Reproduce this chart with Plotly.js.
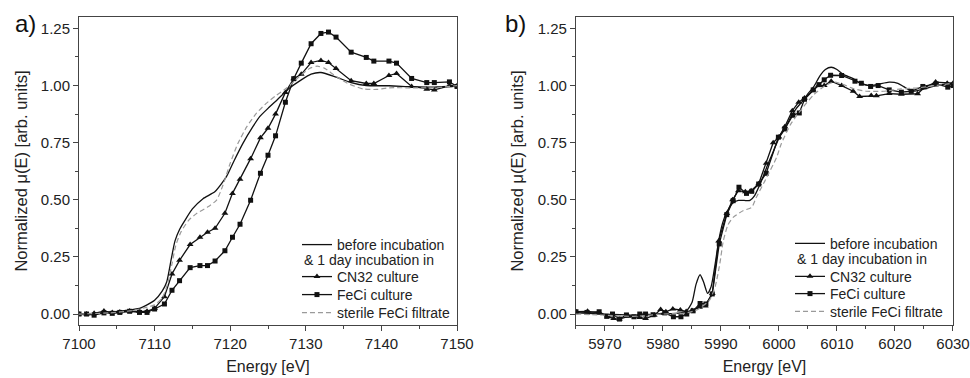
<!DOCTYPE html>
<html>
<head>
<meta charset="utf-8">
<script src="https://cdn.plot.ly/plotly-3.0.1.min.js"></script>
<style>html,body{margin:0;padding:0;background:#fff;}#chart{width:970px;height:378px;}</style>
</head>
<body>
<div id="chart"></div>
<script>
// ---------- Panel a) ----------
const aMarkX = [7100,7101,7102,7103.3,7104.4,7105.4,7106.7,7108,7109,7110,7111.3,7112.3,7113.3,7114.7,7116,7117,7118,7119.3,7120.3,7121.3,7122.7,7124,7125,7126,7127.3,7128.4,7129.4,7130.7,7132,7133,7134,7136,7138,7139,7141,7142,7144,7146,7147,7149,7150];
const aFeCi = [0,0,-0.005,0.005,0.003,0.007,0.012,0.007,0.007,0.022,0.044,0.104,0.146,0.203,0.212,0.212,0.232,0.277,0.336,0.393,0.498,0.616,0.695,0.78,0.927,1.03,1.098,1.183,1.228,1.234,1.212,1.146,1.123,1.107,1.107,1.098,1.031,1.013,1.013,1.016,0.996];
const aCN32 = [0,0,0.003,0.013,0.007,0.009,0.013,0.012,0.012,0.025,0.076,0.175,0.235,0.304,0.336,0.358,0.375,0.441,0.528,0.59,0.68,0.771,0.813,0.875,0.97,1.03,1.049,1.101,1.11,1.101,1.075,1.021,1.009,1.009,1.044,1.053,0.996,0.984,0.981,0.999,0.999];
const aBeforeX = [7100,7102,7104,7106,7108,7109,7110,7111,7111.6,7112.2,7112.7,7113.3,7114.2,7115,7116.4,7118,7119.5,7120.5,7121.7,7123,7123.9,7125,7126.2,7127.9,7129.4,7130.7,7132,7134,7136,7138,7141,7144,7147,7150];
const aBefore = [0,0.003,0.008,0.015,0.025,0.04,0.06,0.1,0.14,0.24,0.32,0.37,0.42,0.46,0.505,0.536,0.601,0.67,0.748,0.82,0.864,0.9,0.937,0.99,1.025,1.05,1.057,1.037,1.013,1.0,0.999,0.995,0.993,0.998];
const aSterileX = [7100,7104,7107,7109,7110,7111,7111.7,7112.3,7112.8,7113.5,7114.5,7115.6,7117,7118.2,7119,7120,7121,7122.2,7123.5,7124.8,7126,7127.5,7129,7130.5,7131.5,7132.5,7134,7135.5,7137.6,7139.4,7141,7144,7147,7150];
const aSterile = [0,0.005,0.015,0.03,0.04,0.07,0.13,0.22,0.3,0.36,0.41,0.441,0.468,0.499,0.56,0.66,0.745,0.82,0.88,0.923,0.955,0.99,1.035,1.075,1.085,1.075,1.04,1.01,0.985,0.983,0.99,0.99,0.99,1.0];

// ---------- Panel b) ----------
const bBeforeX = [5965,5970,5975,5980,5983,5984,5985,5985.7,5986.4,5987,5987.7,5988.3,5989,5989.6,5990.3,5991,5992,5993,5994,5995,5995.8,5997,5998,5999,6000,6001,6002,6003,6004,6005,6006,6007,6008,6009,6010,6011,6012.8,6014,6015.6,6017,6019,6020.5,6021.5,6023,6025,6027,6030];
const bBefore = [0.005,0.0,-0.005,0.0,0.005,0.012,0.05,0.13,0.172,0.14,0.09,0.12,0.22,0.32,0.4,0.445,0.485,0.497,0.497,0.497,0.518,0.584,0.65,0.71,0.77,0.81,0.86,0.9,0.93,0.965,0.995,1.04,1.07,1.08,1.07,1.05,1.03,1.01,1.0,1.005,1.015,1.01,0.995,0.975,0.985,1.0,1.01];
const bCN32X = [5965,5967,5969,5970.5,5971.5,5972.5,5974,5976,5977,5978.5,5979.6,5980.5,5981.7,5983,5984,5985,5986.3,5987.3,5988.5,5989.6,5991,5992,5993,5994.2,5995.2,5996.5,5997.8,5999,6000,6001,6002.3,6003.4,6004.4,6005.9,6006.8,6007.8,6009,6010.8,6012.8,6013.9,6015.9,6016.8,6019,6021.1,6023.9,6025,6027,6029,6030];
const bCN32 = [0.01,0.012,0.005,-0.012,-0.02,-0.022,-0.01,-0.015,-0.02,-0.005,0.02,0.01,0.022,0.018,0.011,0.015,0.03,0.035,0.09,0.32,0.44,0.5,0.54,0.535,0.54,0.57,0.66,0.75,0.775,0.82,0.89,0.927,0.945,0.98,1.0,1.0,1.019,1.0,0.975,0.952,0.956,0.955,0.965,0.962,0.964,0.99,1.015,1.01,1.01];
const bFeCiX = [5965,5966.9,5969,5970.3,5971.3,5972.5,5973.7,5975,5976,5977,5978.3,5980.3,5981.8,5983.1,5984.1,5985.2,5986.4,5987.4,5988.5,5989.7,5991,5992.1,5993.1,5994.4,5995.3,5996.5,5997.8,5999.9,6001,6002.4,6003.5,6004.4,6005.9,6006.9,6007.8,6008.9,6010.8,6013.1,6014.2,6015.8,6017.1,6019,6021.1,6022.8,6024.8,6027.1,6029.1,6030];
const bFeCi = [0.01,0.007,0.01,-0.01,0,-0.022,-0.004,-0.012,0,0,-0.003,0.005,-0.012,-0.012,0,0.014,0.046,0.044,0.088,0.307,0.435,0.496,0.555,0.528,0.537,0.569,0.616,0.774,0.81,0.87,0.88,0.94,0.981,1.004,1.025,1.045,1.044,1.019,1.01,0.996,1.0,0.981,0.971,0.975,0.996,1.007,0.993,1.0];
const bSterileX = [5965,5970,5975,5980,5984,5986,5988,5989,5989.8,5990.4,5991.2,5992.1,5993.8,5995.3,5996.1,5997.6,5999.6,6000.4,6002,6004,6006,6008,6009.5,6011,6013,6015,6018,6021,6024,6027,6030];
const bSterile = [0,-0.005,-0.01,0,0.005,0.02,0.06,0.12,0.22,0.32,0.39,0.423,0.452,0.467,0.511,0.584,0.686,0.745,0.83,0.9,0.96,1.0,1.015,1.005,0.985,0.975,0.975,0.985,0.99,1.0,1.01];

const seriesNames = ['before incubation','CN32 culture','FeCi culture','sterile FeCi filtrate'];
const legendNote = '& 1 day incubation in';
const panelLabels = ['a)','b)'];
const xTitle = 'Energy [eV]';
const yTitle = 'Normalized μ(E) [arb. units]';

const FONT = 'Liberation Sans, Arial, sans-serif';
const BLACK = '#111';
const GRAY = '#9a9a9a';

// one legend box per entry so the row spacing can follow the reference
function panel(xa, ya, legs, d) {
  return [
    {x: d.bx, y: d.by, xaxis: xa, yaxis: ya, legend: legs[0], name: seriesNames[0],
     mode: 'lines', line: {color: BLACK, width: 1.3, shape: 'spline', smoothing: 0.6}},
    {x: d.tx, y: d.ty, xaxis: xa, yaxis: ya, legend: legs[1], name: seriesNames[1],
     mode: 'lines+markers', line: {color: BLACK, width: 1.3}, marker: {symbol: 'triangle-up', size: 6, color: BLACK}},
    {x: d.sx, y: d.sy, xaxis: xa, yaxis: ya, legend: legs[2], name: seriesNames[2],
     mode: 'lines+markers', line: {color: BLACK, width: 1.3}, marker: {symbol: 'square', size: 5, color: BLACK}},
    {x: d.fx, y: d.fy, xaxis: xa, yaxis: ya, legend: legs[3], name: seriesNames[3],
     mode: 'lines', line: {color: GRAY, width: 1.2, dash: '5px,3px', shape: 'spline', smoothing: 0.6}}
  ];
}

const data = [].concat(
  panel('x', 'y', ['legend','legend2','legend3','legend4'],
        {bx: aBeforeX, by: aBefore, tx: aMarkX, ty: aCN32, sx: aMarkX, sy: aFeCi, fx: aSterileX, fy: aSterile}),
  panel('x2', 'y2', ['legend5','legend6','legend7','legend8'],
        {bx: bBeforeX, by: bBefore, tx: bCN32X, ty: bCN32, sx: bFeCiX, sy: bFeCi, fx: bSterileX, fy: bSterile})
);

function xaxis(domain, range, anchor) {
  return {
    domain: domain, range: range, anchor: anchor,
    showline: true, linecolor: '#444', linewidth: 1, mirror: true,
    ticks: 'outside', ticklen: 5, tickcolor: '#444', dtick: 10,
    minor: {ticks: 'outside', ticklen: 3, dtick: 5, tickcolor: '#444'},
    showgrid: false, zeroline: false, automargin: false,
    tickfont: {family: FONT, size: 15, color: '#222'},
    title: {text: xTitle, font: {family: FONT, size: 16, color: '#222'}, standoff: 9}
  };
}
function yaxis(anchor) {
  return {
    domain: [0, 1], range: [-0.048, 1.30], anchor: anchor,
    showline: true, linecolor: '#444', linewidth: 1, mirror: true,
    ticks: 'outside', ticklen: 5, tickcolor: '#444', dtick: 0.25, tick0: 0, tickformat: '.2f',
    minor: {ticks: 'outside', ticklen: 3, dtick: 0.125, tickcolor: '#444'},
    showgrid: false, zeroline: false, automargin: false,
    tickfont: {family: FONT, size: 15, color: '#222'},
    title: {text: yTitle, font: {family: FONT, size: 16.5, color: '#222'}, standoff: 9}
  };
}
function legend(x, y) {
  return {x: x, y: y, xanchor: 'left', yanchor: 'top', bgcolor: 'rgba(0,0,0,0)', borderwidth: 0,
    itemwidth: 30, font: {family: FONT, size: 14, color: '#222'}};
}

const layout = {
  width: 970, height: 378,
  margin: {l: 79, r: 17, t: 17, b: 53},
  paper_bgcolor: '#fff', plot_bgcolor: '#fff',
  showlegend: true,
  xaxis: xaxis([0, 0.4325], [7100, 7150], 'y'),
  yaxis: yaxis('x'),
  xaxis2: xaxis([0.5686, 1], [5965, 6030], 'y2'),
  yaxis2: yaxis('x2'),
  legend: legend(0.2494, 0.3117),
  legend2: legend(0.2494, 0.2078),
  legend3: legend(0.2494, 0.1494),
  legend4: legend(0.2494, 0.0909),
  legend5: legend(0.8135, 0.3159),
  legend6: legend(0.8135, 0.2088),
  legend7: legend(0.8135, 0.1526),
  legend8: legend(0.8135, 0.0951),
  annotations: [
    {text: panelLabels[0], xref: 'paper', yref: 'paper', x: -0.0755, y: 0.98, xanchor: 'left', yanchor: 'middle', showarrow: false,
     font: {family: FONT, size: 24, color: '#111'}},
    {text: panelLabels[1], xref: 'paper', yref: 'paper', x: 0.485, y: 0.98, xanchor: 'left', yanchor: 'middle', showarrow: false,
     font: {family: FONT, size: 24, color: '#111'}},
    {text: legendNote, xref: 'paper', yref: 'paper', x: 0.2551, y: 0.211, xanchor: 'left', yanchor: 'middle', showarrow: false,
     font: {family: FONT, size: 14, color: '#222'}},
    {text: legendNote, xref: 'paper', yref: 'paper', x: 0.8192, y: 0.2133, xanchor: 'left', yanchor: 'middle', showarrow: false,
     font: {family: FONT, size: 14, color: '#222'}}
  ]
};

Plotly.newPlot('chart', data, layout, {displayModeBar: false, staticPlot: true});
</script>
</body>
</html>
